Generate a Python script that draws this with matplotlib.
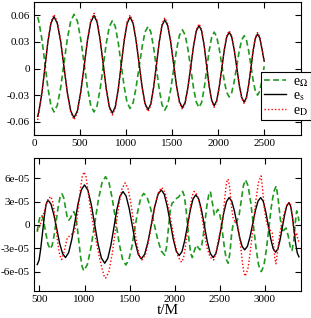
import numpy as np
import matplotlib
matplotlib.use('Agg')
import matplotlib.pyplot as plt

plt.rcParams['font.family'] = ['Liberation Serif', 'DejaVu Serif']
plt.rcParams['mathtext.fontset'] = 'stix'

# ---- top panel ----
t_top = [40, 53, 86, 119, 151, 184,
         217, 253, 290, 326, 362, 399,
         435, 471, 507, 544, 580, 616,
         652, 685, 718, 752, 785, 818,
         851, 883, 915, 947, 979, 1011,
         1043, 1076, 1108, 1141, 1174, 1206,
         1239, 1269, 1299, 1330, 1360, 1390,
         1420, 1452, 1484, 1516, 1548, 1580,
         1612, 1642, 1672, 1703, 1733, 1763,
         1793, 1820, 1848, 1875, 1902, 1930,
         1957, 1984, 2011, 2039, 2066, 2093,
         2120, 2147, 2174, 2202, 2229, 2256,
         2283, 2307, 2331, 2356, 2380, 2404,
         2428, 2452, 2476, 2500]

es_top = [-0.054, -0.0483, -0.0274, 0.0013, 0.0300, 0.0509,
          0.0586, 0.0509, 0.0301, 0.0015, -0.0271, -0.0479,
          -0.0556, -0.0479, -0.0268, 0.0021, 0.0310, 0.0521,
          0.0598, 0.0524, 0.0323, 0.0047, -0.0229, -0.0430,
          -0.0504, -0.0431, -0.0233, 0.0038, 0.0309, 0.0507,
          0.0580, 0.0510, 0.0319, 0.0057, -0.0205, -0.0396,
          -0.0466, -0.0398, -0.0212, 0.0042, 0.0296, 0.0482,
          0.0550, 0.0484, 0.0303, 0.0054, -0.0195, -0.0376,
          -0.0443, -0.0381, -0.0211, 0.0021, 0.0253, 0.0423,
          0.0485, 0.0425, 0.0260, 0.0033, -0.0194, -0.0359,
          -0.0420, -0.0364, -0.0213, -0.0005, 0.0203, 0.0354,
          0.0410, 0.0357, 0.0213, 0.0015, -0.0183, -0.0327,
          -0.0380, -0.0328, -0.0188, 0.0005, 0.0198, 0.0338,
          0.0390, 0.0345, 0.0220, 0.0083]

eo_top = [0.0580, 0.0527, 0.0328, 0.0055, -0.0218, -0.0417,
          -0.0490, -0.0416, -0.0215, 0.0060, 0.0335, 0.0536,
          0.0610, 0.0536, 0.0335, 0.0060, -0.0215, -0.0416,
          -0.0490, -0.0421, -0.0233, 0.0025, 0.0283, 0.0471,
          0.0540, 0.0474, 0.0293, 0.0045, -0.0203, -0.0384,
          -0.0450, -0.0388, -0.0219, 0.0012, 0.0243, 0.0412,
          0.0474, 0.0411, 0.0238, 0.0002, -0.0234, -0.0407,
          -0.0470, -0.0409, -0.0244, -0.0017, 0.0210, 0.0375,
          0.0436, 0.0377, 0.0217, -0.0002, -0.0221, -0.0381,
          -0.0440, -0.0383, -0.0228, -0.0015, 0.0198, 0.0353,
          0.0410, 0.0361, 0.0228, 0.0045, -0.0138, -0.0271,
          -0.0320, -0.0274, -0.0148, 0.0025, 0.0198, 0.0324,
          0.0370, 0.0325, 0.0203, 0.0035, -0.0133, -0.0255,
          -0.0300, -0.0257, -0.0138, 0.0025]

eD_top = [-0.0580, -0.0502, -0.0285, 0.0014, 0.0312, 0.0529,
          0.0609, 0.0529, 0.0313, 0.0016, -0.0282, -0.0498,
          -0.0578, -0.0498, -0.0279, 0.0022, 0.0322, 0.0542,
          0.0622, 0.0545, 0.0336, 0.0049, -0.0238, -0.0447,
          -0.0524, -0.0448, -0.0242, 0.0040, 0.0321, 0.0527,
          0.0603, 0.0530, 0.0332, 0.0059, -0.0213, -0.0412,
          -0.0485, -0.0414, -0.0220, 0.0044, 0.0308, 0.0501,
          0.0572, 0.0503, 0.0315, 0.0056, -0.0203, -0.0391,
          -0.0461, -0.0396, -0.0219, 0.0022, 0.0263, 0.0440,
          0.0504, 0.0442, 0.0270, 0.0034, -0.0202, -0.0373,
          -0.0437, -0.0379, -0.0222, -0.0005, 0.0211, 0.0368,
          0.0426, 0.0371, 0.0222, 0.0016, -0.0190, -0.0340,
          -0.0395, -0.0341, -0.0196, 0.0005, 0.0206, 0.0352,
          0.0406, 0.0359, 0.0229, 0.0086]

# ---- bottom panel, in units of 1e-5 ----
t_s_bot = [476, 496, 515, 535, 555, 574,
           594, 627, 659, 692, 724, 757,
           789, 824, 859, 895, 930, 965,
           1000, 1037, 1075, 1112, 1149, 1187,
           1224, 1258, 1292, 1326, 1359, 1393,
           1427, 1461, 1495, 1529, 1562, 1596,
           1630, 1667, 1704, 1741, 1777, 1814,
           1851, 1884, 1917, 1951, 1984, 2017,
           2050, 2081, 2111, 2142, 2173, 2203,
           2234, 2266, 2298, 2330, 2362, 2394,
           2426, 2456, 2485, 2515, 2544, 2574,
           2603, 2632, 2661, 2690, 2718, 2747,
           2776, 2806, 2835, 2865, 2894, 2924,
           2953, 2981, 3008, 3036, 3064, 3091,
           3119, 3144, 3168, 3193, 3218, 3242,
           3267, 3285, 3304, 3322, 3340, 3359, 3377]
es_bot = [-5.10, -4.54, -3.02, -0.95, 1.13, 2.65,
          3.21, 2.71, 1.36, -0.50, -2.35, -3.70,
          -4.20, -3.57, -1.87, 0.47, 2.81, 4.51,
          5.14, 4.47, 2.62, 0.11, -2.41, -4.26,
          -4.93, -4.31, -2.63, -0.32, 1.99, 3.67,
          4.29, 3.71, 2.13, -0.04, -2.21, -3.79,
          -4.37, -3.78, -2.15, 0.07, 2.28, 3.91,
          4.50, 3.94, 2.39, 0.28, -1.83, -3.38,
          -3.94, -3.42, -1.99, -0.04, 1.91, 3.34,
          3.86, 3.32, 1.85, -0.17, -2.19, -3.66,
          -4.20, -3.68, -2.27, -0.35, 1.58, 2.99,
          3.51, 3.06, 1.83, 0.15, -1.53, -2.76,
          -3.21, -2.76, -1.53, 0.15, 1.83, 3.06,
          3.51, 3.04, 1.76, 0.00, -1.76, -3.04,
          -3.51, -3.08, -1.92, -0.32, 1.28, 2.44,
          2.87, 2.40, 1.13, -0.62, -2.36, -3.63, -4.10]

t_o_bot = [476, 490, 505, 524, 545, 570, 595,
           620, 642, 663, 685, 707, 728,
           750, 769, 788, 806,
           825, 845, 865,
           882, 900, 919, 937, 955, 974,
           992, 1032, 1072, 1113, 1153, 1193,
           1233, 1271, 1308, 1346, 1383, 1421,
           1458, 1491, 1524, 1557, 1590, 1623,
           1656, 1695, 1734, 1773, 1812, 1851,
           1890, 1910, 1930, 1950, 1970, 1995, 2020, 2045, 2068,
           2088, 2106, 2124, 2142, 2159, 2177,
           2195, 2215, 2240, 2260,
           2278, 2298, 2317, 2337, 2356, 2376,
           2395, 2418, 2440, 2460,
           2478, 2497, 2516, 2535, 2554, 2573,
           2592, 2612, 2632, 2650, 2670,
           2691, 2714, 2738, 2761,
           2785, 2814, 2843, 2873, 2902, 2931,
           2960, 2988, 3015, 3043, 3070, 3098,
           3125, 3145, 3170, 3195, 3215, 3235, 3260, 3280, 3300, 3320,
           3337, 3352, 3365, 3377]
eo_bot = [-0.9, 0.2, 1.0, 1.3, 0.6, -1.0, -2.5,
          -3.1, -2.62, -1.33, 0.45, 2.23, 3.52,
          4.0, 3.5, 2.3, 1.1,
          0.6, 0.9, 1.45,
          1.7, 1.19, -0.2, -2.1, -4.0, -5.39,
          -5.9, -5.09, -2.88, 0.15, 3.18, 5.39,
          6.2, 5.44, 3.36, 0.53, -2.31, -4.39,
          -5.15, -4.53, -2.85, -0.55, 1.75, 3.43,
          4.05, 3.52, 2.06, 0.08, -1.91, -3.37,
          -3.9, -2.8, -0.5, 1.8, 2.8, 3.0, 3.4, 3.6, 4.0,
          4.3, 3.73, 2.18, 0.05, -2.08, -3.63,
          -4.2, -3.4, -2.6, -2.9,
          -3.2, -2.7, -1.33, 0.55, 2.43, 3.8,
          4.3, 2.8, 1.2, 1.6,
          2.0, 1.54, 0.27, -1.47, -3.2, -4.47,
          -4.93, -3.6, -1.0, 0.2, 0.3,
          0.5, 1.28, 3.15, 5.02,
          5.8, 5.01, 2.85, -0.1, -3.05, -5.21,
          -6.0, -5.26, -3.25, -0.5, 2.25, 4.26,
          5.0, 3.5, 0.8, -1.0, -0.6, -0.4, -1.5, -2.8, -3.3, -2.0,
          0.3, 1.8, 1.4, 0.5]

t_D_bot = [476, 500, 525, 550, 575, 600,
           625, 645, 665, 685, 705, 725,
           748, 775, 808, 845, 881, 900, 918, 937, 955, 975, 995, 1015,
           1040, 1060, 1083, 1110, 1138, 1165, 1194, 1215,
           1234, 1270, 1306, 1342, 1378, 1414,
           1450, 1481, 1512, 1543, 1574, 1605,
           1636, 1673, 1709, 1746, 1783, 1819,
           1856, 1893, 1929, 1966, 2003, 2039,
           2076, 2099, 2122, 2146, 2169, 2192,
           2215, 2240, 2262, 2285, 2310, 2335, 2360, 2385, 2410,
           2432, 2459, 2485, 2512, 2535, 2555, 2575,
           2592, 2610, 2628, 2645, 2665, 2690, 2710, 2730, 2750, 2765,
           2780, 2810, 2839, 2869, 2899, 2928,
           2958, 2975, 2995, 3015, 3035, 3060, 3080, 3095, 3110,
           3122, 3140, 3160, 3180, 3200, 3220, 3240, 3260, 3280, 3300,
           3320, 3335, 3350, 3365, 3377]
eD_bot = [-0.7, -0.3, 0.6, 1.6, 2.6, 3.3,
          3.65, 3.11, 1.63, -0.4, -2.43, -3.91,
          -4.45, -3.4, -1.7, -1.3, -1.0, -0.3, 0.9, 2.8, 4.7, 6.2, 6.8, 6.3,
          4.3, 2.5, 0.9, -0.9, -2.6, -4.2, -5.6, -6.5,
          -6.85, -6.03, -3.79, -0.73, 2.34, 4.58,
          5.4, 4.74, 2.93, 0.45, -2.03, -3.84,
          -4.5, -3.88, -2.18, 0.15, 2.48, 4.18,
          4.8, 4.16, 2.4, 0.0, -2.4, -4.16,
          -4.8, -4.19, -2.53, -0.25, 2.03, 3.69,
          4.3, 4.0, 3.4, 2.2, 0.4, -1.5, -3.0, -3.9, -4.4,
          -4.5, -3.6, -1.8, -0.6, 0.8, 3.5, 5.5,
          5.9, 4.8, 2.5, 1.0, 0.5, 0.3, -0.8, -2.6, -4.8, -6.0,
          -6.6, -5.74, -3.38, -0.15, 3.08, 5.44,
          6.3, 4.5, 1.9, 0.5, -0.3, -0.7, -1.0, -2.5, -4.3,
          -5.0, -3.5, -1.5, -0.2, 0.8, 1.8, 2.5, 2.8, 2.9, 1.5,
          -0.8, -1.5, -1.0, -1.8, -2.2]

top_xticks = [0, 500, 1000, 1500, 2000, 2500]
top_yticks = [-0.06, -0.03, 0, 0.03, 0.06]
top_ylabels = ['-0.06', '-0.03', '0', '0.03', '0.06']
bot_xticks = [500, 1000, 1500, 2000, 2500, 3000]
bot_yticks = [-6e-5, -3e-5, 0, 3e-5, 6e-5]
bot_ylabels = ['-6e-05', '-3e-05', '0', '3e-05', '6e-05']

green = '#1f9a1f'
W, H = 311, 318
fig = plt.figure(figsize=(W / 100, H / 100), dpi=100)
ax1 = fig.add_axes([34 / W, 1 - 135 / H, 267 / W, 133 / H])
ax2 = fig.add_axes([34 / W, 1 - 291 / H, 267 / W, 133 / H])

l1, = ax1.plot(t_top, eo_top, color=green, lw=1.2, ls=(0, (3.5, 2)))
l2, = ax1.plot(t_top, es_top, color='black', lw=1.0)
l3, = ax1.plot(t_top, eD_top, color='red', lw=1.0, ls=(0, (1, 1.5)))

ax2.plot(t_o_bot, np.array(eo_bot) * 1e-5, color=green, lw=1.2, ls=(0, (3.5, 2)))
ax2.plot(t_s_bot, np.array(es_bot) * 1e-5, color='black', lw=1.0)
ax2.plot(t_D_bot, np.array(eD_bot) * 1e-5, color='red', lw=1.0, ls=(0, (1, 1.5)))

ax1.set_xlim(0, 2900)
ax1.set_ylim(-0.075, 0.075)
ax1.set_xticks(top_xticks)
ax1.set_yticks(top_yticks)
ax1.set_yticklabels(top_ylabels)

ax2.set_xlim(440, 3400)
ax2.set_ylim(-8.5e-5, 8.6e-5)
ax2.set_xticks(bot_xticks)
ax2.set_yticks(bot_yticks)
ax2.set_yticklabels(bot_ylabels)
ax2.set_xlabel('t/M', fontsize=11, labelpad=0)

for ax in (ax1, ax2):
    ax.tick_params(direction='in', top=True, right=True, length=4.5, width=0.8,
                   labelsize=8, pad=3)
    for s in ax.spines.values():
        s.set_linewidth(0.8)

leg = fig.legend([l1, l2, l3], [r'e$_\Omega$', r'e$_\mathrm{s}$', r'e$_\mathrm{D}$'],
                 loc='upper left', bbox_to_anchor=(261 / W, 1 - 72 / H),
                 borderaxespad=0, fontsize=10, handlelength=1.6,
                 handletextpad=0.5, labelspacing=0.05, borderpad=0.2,
                 fancybox=False, framealpha=1, edgecolor='black')
leg.get_frame().set_linewidth(0.8)

plt.savefig('out.png', dpi=100)
